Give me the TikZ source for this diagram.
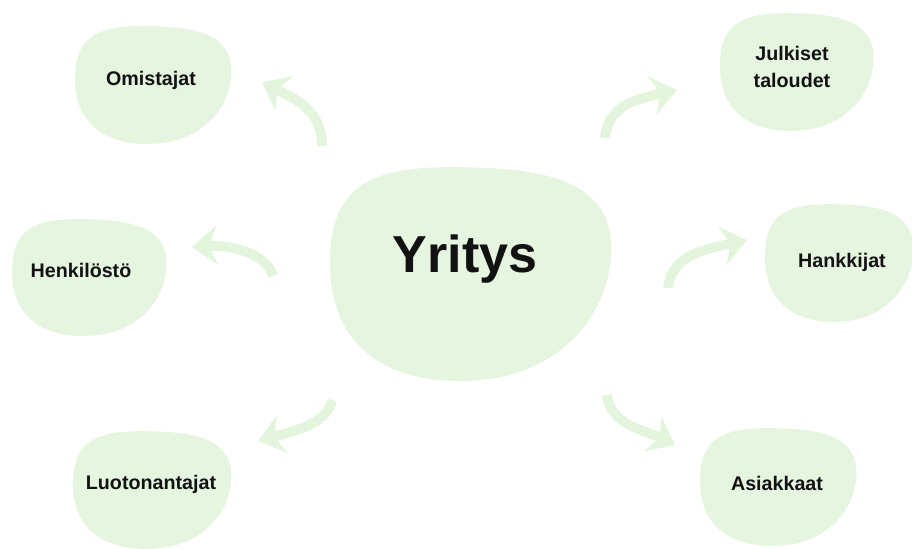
\documentclass[tikz,border=0pt]{standalone}
\usepackage{fontspec}
\setmainfont{Liberation Sans}
\usetikzlibrary{arrows.meta}
\definecolor{blobgreen}{RGB}{229,245,223}
\definecolor{flowgreen}{RGB}{228,245,221}

\tikzset{
  pics/blob/.style={code={
    \fill[blobgreen] (0,0.45) .. controls (0,0.12) and (0.12,0.01) .. (0.42,0.01)
      .. controls (0.72,0.01) and (0.99,0.05) .. (0.99,0.38)
      .. controls (0.99,0.68) and (0.82,0.93) .. (0.57,0.98)
      .. controls (0.3,1.03) and (0,0.92) .. (0,0.45) -- cycle;
  }},
  flow/.style={draw=flowgreen, line width=7pt,
    -{Stealth[length=18pt,width=28pt,inset=6pt,line width=0pt]}},
  lbl/.style={font=\bfseries\fontsize{14}{19}\selectfont, text=black!93, anchor=base},
  hub/.style={font=\bfseries\fontsize{37}{44}\selectfont, text=black!93, anchor=base}
}

\begin{document}
\begin{tikzpicture}[x=0.025cm,y=-0.025cm]
  \useasboundingbox (0,0) rectangle (912,548);

  \foreach \bx/\by/\bw/\bh in {330/165/284/218, 75/25/158/120, 720/12/155/120,
      12/218/156/119, 765/203/150/120, 73/430/160/120, 700/427/158/120} {
    \pic[xscale=\bw,yscale=\bh] at (\bx,\by) {blob};
  }

  \coordinate (omistajatA) at (322,146);     \coordinate (omistajatB) at (262,82);
  \coordinate (julkisetA) at (605,138);      \coordinate (julkisetB) at (677,90);
  \coordinate (henkilostoA) at (273,276);    \coordinate (henkilostoB) at (192,247);
  \coordinate (hankkijatA) at (668,288);     \coordinate (hankkijatB) at (747,240);
  \coordinate (luotonantajatA) at (332,400); \coordinate (luotonantajatB) at (258,441);
  \coordinate (asiakkaatA) at (607,395);     \coordinate (asiakkaatB) at (675,445);

  \draw[flow] (omistajatA) .. controls +(0,-35) and +(35,18) .. (omistajatB);
  \draw[flow] (julkisetA) .. controls +(3,-35) and +(-35,8) .. (julkisetB);
  \draw[flow] (henkilostoA) .. controls +(-8,-25) and +(35,-2) .. (henkilostoB);
  \draw[flow] (hankkijatA) .. controls +(3,-35) and +(-35,8) .. (hankkijatB);
  \draw[flow] (luotonantajatA) .. controls +(-5,25) and +(35,-10) .. (luotonantajatB);
  \draw[flow] (asiakkaatA) .. controls +(3,30) and +(-30,-15) .. (asiakkaatB);

  \node[hub] (yritys) at (465,272) {Yritys};
  \node[lbl] (omistajat) at (151,85) {Omistajat};
  \node[lbl, anchor=center, align=center] (julkiset) at (792,67) {Julkiset\\taloudet};
  \node[lbl] (henkilosto) at (81,277) {Henkilöstö};
  \node[lbl] (hankkijat) at (842,267) {Hankkijat};
  \node[lbl] (luotonantajat) at (151,489) {Luotonantajat};
  \node[lbl] (asiakkaat) at (777,490) {Asiakkaat};
\end{tikzpicture}
\end{document}
